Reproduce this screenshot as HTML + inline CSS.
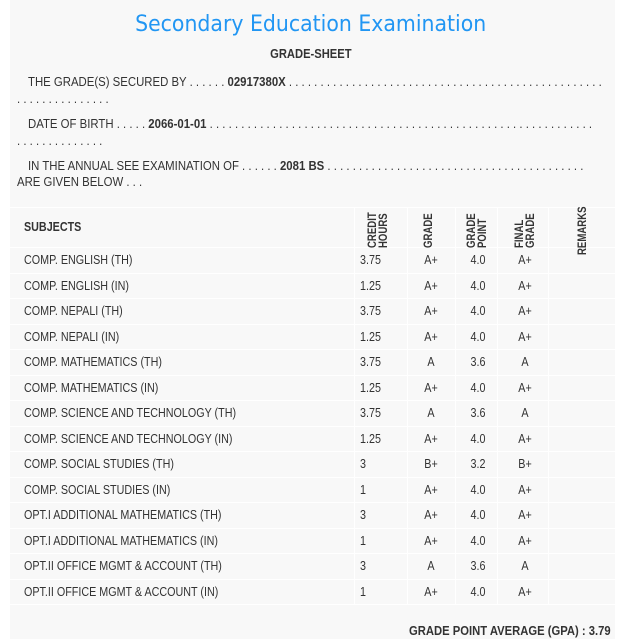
<!DOCTYPE html><html><head><style>
body{margin:0;width:621px;height:639px;background:#fff;font-family:"Liberation Sans",sans-serif;color:#333;position:relative;overflow:hidden}
#p{position:absolute;left:10px;top:0;width:605px;height:639px;background:#f8f8f8}
.a{position:absolute;white-space:nowrap;font-size:12.5px;transform-origin:0 0;transform:scaleX(0.86)}
.t{transform:scaleX(0.91)}
.c{transform-origin:50% 0}
.h{position:absolute;background:#fff;height:1px}
.v{position:absolute;background:#fff;width:1px}
.r{position:absolute;font-size:12px;font-weight:bold;transform-origin:0 0;transform:rotate(-90deg) scaleX(0.8);line-height:11px;text-align:left}
#cl{position:absolute;left:0;top:0;width:615px;height:200px;overflow:hidden}
</style></head><body><div id="p"></div>
<div class="a" style="left:0;width:621px;text-align:center;top:12px;font-size:22px;color:#2196f3;font-family:'DejaVu Sans',sans-serif;transform-origin:313px 0;transform:scaleX(0.93)">Secondary Education Examination</div>
<div class="a" style="left:0;width:621px;text-align:center;top:46px;font-weight:bold;font-size:13px;transform-origin:313px 0">GRADE-SHEET</div>
<div id="cl">
<div class="a t" style="left:28px;top:75px">THE GRADE(S) SECURED BY . . . . . . <b>02917380X</b> . . . . . . . . . . . . . . . . . . . . . . . . . . . . . . . . . . . . . . . . . . . . . . . . . .</div>
<div class="a t" style="left:17px;top:92px">. . . . . . . . . . . . . . .</div>
<div class="a t" style="left:28px;top:117px">DATE OF BIRTH . . . . . <b>2066-01-01</b> . . . . . . . . . . . . . . . . . . . . . . . . . . . . . . . . . . . . . . . . . . . . . . . . . . . . . . . . . . . . .</div>
<div class="a t" style="left:17px;top:134px">. . . . . . . . . . . . . .</div>
<div class="a t" style="left:28px;top:159px">IN THE ANNUAL SEE EXAMINATION OF . . . . . . <b>2081 BS</b> . . . . . . . . . . . . . . . . . . . . . . . . . . . . . . . . . . . . . . . . .</div>
<div class="a t" style="left:17px;top:175px">ARE GIVEN BELOW . . .</div>
</div>
<div class="h" style="left:10px;top:207px;width:605px"></div>
<div class="h" style="left:10px;top:247px;width:605px"></div>
<div class="v" style="left:354px;top:207px;height:397px"></div>
<div class="v" style="left:407px;top:207px;height:397px"></div>
<div class="v" style="left:455px;top:207px;height:397px"></div>
<div class="v" style="left:497px;top:207px;height:397px"></div>
<div class="v" style="left:548px;top:207px;height:397px"></div>
<div class="v" style="left:615px;top:207px;height:397px"></div>
<div class="a" style="left:24px;top:220px;font-weight:bold">SUBJECTS</div>
<div class="r" style="left:367px;top:248px">CREDIT<br>HOURS</div>
<div class="r" style="left:423px;top:248px">GRADE</div>
<div class="r" style="left:466px;top:248px">GRADE<br>POINT</div>
<div class="r" style="left:514px;top:248px">FINAL<br>GRADE</div>
<div class="r" style="left:577px;top:255px">REMARKS</div>
<div id="rows"></div>
<script>
var d=[["COMP. ENGLISH (TH)","3.75","A+","4.0","A+"],["COMP. ENGLISH (IN)","1.25","A+","4.0","A+"],["COMP. NEPALI (TH)","3.75","A+","4.0","A+"],["COMP. NEPALI (IN)","1.25","A+","4.0","A+"],["COMP. MATHEMATICS (TH)","3.75","A","3.6","A"],["COMP. MATHEMATICS (IN)","1.25","A+","4.0","A+"],["COMP. SCIENCE AND TECHNOLOGY (TH)","3.75","A","3.6","A"],["COMP. SCIENCE AND TECHNOLOGY (IN)","1.25","A+","4.0","A+"],["COMP. SOCIAL STUDIES (TH)","3","B+","3.2","B+"],["COMP. SOCIAL STUDIES (IN)","1","A+","4.0","A+"],["OPT.I ADDITIONAL MATHEMATICS (TH)","3","A+","4.0","A+"],["OPT.I ADDITIONAL MATHEMATICS (IN)","1","A+","4.0","A+"],["OPT.II OFFICE MGMT & ACCOUNT (TH)","3","A","3.6","A"],["OPT.II OFFICE MGMT & ACCOUNT (IN)","1","A+","4.0","A+"]];
var h="";d.forEach(function(r,i){var y=247+i*25.5;
h+='<div class="h" style="left:10px;top:'+(y+25.5)+'px;width:605px"></div>';
var t=y+6;
h+='<div class="a" style="left:24px;top:'+t+'px">'+r[0].replace("&","&amp;")+'</div>';
h+='<div class="a" style="left:360px;top:'+t+'px">'+r[1]+'</div>';
h+='<div class="a c" style="left:407px;width:48px;text-align:center;top:'+t+'px">'+r[2]+'</div>';
h+='<div class="a c" style="left:455px;width:46px;text-align:center;top:'+t+'px">'+r[3]+'</div>';
h+='<div class="a c" style="left:497px;width:56px;text-align:center;top:'+t+'px">'+r[4]+'</div>';});
document.getElementById("rows").innerHTML=h;
</script>
<div class="a" style="left:409px;top:624px;font-weight:bold;font-size:12.5px;transform:scaleX(0.9)">GRADE POINT AVERAGE (GPA) : 3.79</div>
</body></html>
